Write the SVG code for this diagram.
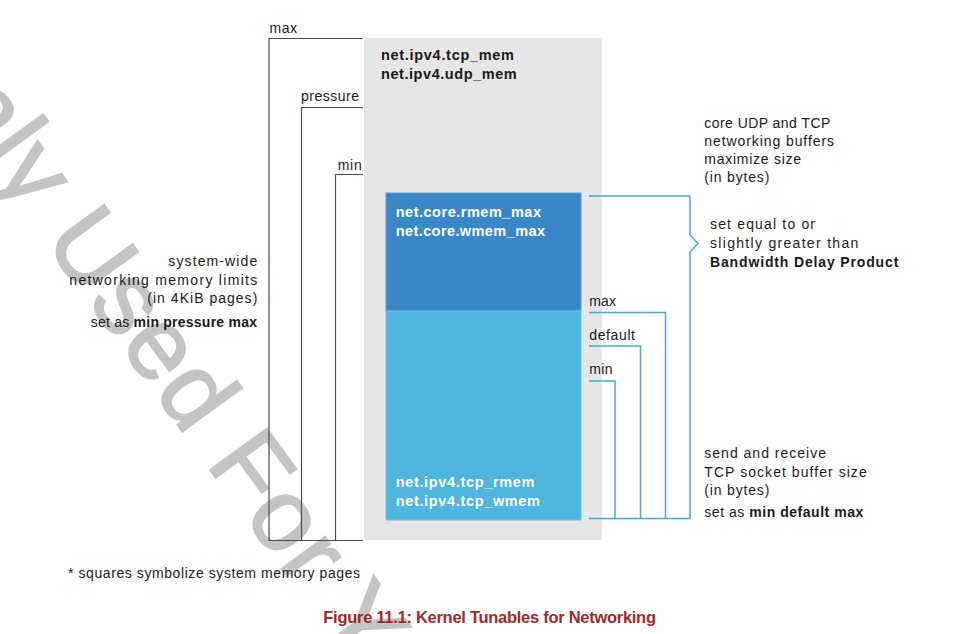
<svg xmlns="http://www.w3.org/2000/svg" width="962" height="634" viewBox="0 0 962 634">
<style>
text{font-family:"Liberation Sans",Arial,sans-serif;font-size:14px;fill:#1a1a1a}
.b{font-weight:bold}
.w{fill:#ffffff;font-weight:bold;font-size:14.5px}
.k{fill:#1a1a1a;font-weight:bold;font-size:14.5px}
.cap{font-weight:bold;font-size:16.5px;fill:#9e2a2b}
.lc{fill:none;stroke:#4d4d4d;stroke-width:1.2}
.rc{fill:none;stroke:#4aa8de;stroke-width:1.5}
.wm{font-size:102px;fill:#c4c4c4;stroke:#c4c4c4;stroke-width:2;letter-spacing:2px}
</style>
<rect width="962" height="634" fill="#ffffff"/>
<g id="watermark">
<text class="wm" transform="translate(-103,39) rotate(54)" x="0" y="0">Only Used For You</text>
</g>
<g id="mem-box">
<rect x="364" y="38" width="238" height="502" fill="#e6e6e6"/>
<text class="k" x="381" y="60" textLength="133">net.ipv4.tcp_mem</text>
<text class="k" x="381" y="78.5" textLength="135.7">net.ipv4.udp_mem</text>
</g>
<g id="core-box">
<rect x="386" y="193" width="195" height="118" fill="#3a87c7" stroke="#5c9fd6" stroke-width="1"/>
<text class="w" x="395.7" y="217.3" textLength="145.3">net.core.rmem_max</text>
<text class="w" x="395.7" y="236" textLength="149.3">net.core.wmem_max</text>
</g>
<g id="tcp-box">
<rect x="386" y="311" width="195" height="209" fill="#4fb5de" stroke="#6cc2e4" stroke-width="1"/>
<text class="w" x="395.7" y="487.3" textLength="138.7">net.ipv4.tcp_rmem</text>
<text class="w" x="395.7" y="506" textLength="144.3">net.ipv4.tcp_wmem</text>
</g>
<g id="connectors">
<path class="lc" d="M363 38.5 H269 V540.5 H363"/>
<path class="lc" d="M363 107.5 H301.5 V540.5"/>
<path class="lc" d="M363 174.5 H335.5 V540.5"/>
<path class="rc" d="M589 196 H690 V235 L698 243.5 L690 252 V518.5 H589"/>
<path class="rc" d="M589 312.5 H665.5 V518.5"/>
<path class="rc" d="M589 346 H640.5 V518.5"/>
<path class="rc" d="M589 381 H615 V518.5"/>
</g>
<g id="left-labels">
<text x="269.5" y="33.3" textLength="27.4">max</text>
<text x="301" y="101" textLength="58">pressure</text>
<text x="337.7" y="170" textLength="24">min</text>
<text x="168.3" y="266" textLength="89">system-wide</text>
<text x="69.3" y="285" textLength="188">networking memory limits</text>
<text x="147.3" y="303.3" textLength="110">(in 4KiB pages)</text>
<text x="90.7" y="327.3" textLength="166.3">set as <tspan class="b">min pressure max</tspan></text>
</g>
<g id="right-labels">
<text x="589.3" y="305.5" textLength="26.7">max</text>
<text x="589.3" y="339.5" textLength="45.7">default</text>
<text x="589.3" y="373.5" textLength="23.3">min</text>
<text x="704.3" y="127.5" textLength="126">core UDP and TCP</text>
<text x="704.3" y="145.5" textLength="129.7">networking buffers</text>
<text x="704.3" y="163.5" textLength="96.7">maximize size</text>
<text x="704.3" y="181.5" textLength="65">(in bytes)</text>
<text x="710" y="229" textLength="105">set equal to or</text>
<text x="710" y="247.5" textLength="148.3">slightly greater than</text>
<text class="b" x="710" y="266.5" textLength="188.3">Bandwidth Delay Product</text>
<text x="704.3" y="457.5" textLength="121.7">send and receive</text>
<text x="704.3" y="476.5" textLength="162.4">TCP socket buffer size</text>
<text x="704.3" y="495" textLength="65">(in bytes)</text>
<text x="704.3" y="516.5" textLength="159">set as <tspan class="b">min default max</tspan></text>
</g>
<g id="footnote">
<text x="68" y="578.3" textLength="292">* squares symbolize system memory pages</text>
</g>
<g id="caption">
<text class="cap" x="323.3" y="622.5" textLength="332.7">Figure 11.1: Kernel Tunables for Networking</text>
</g>
</svg>
